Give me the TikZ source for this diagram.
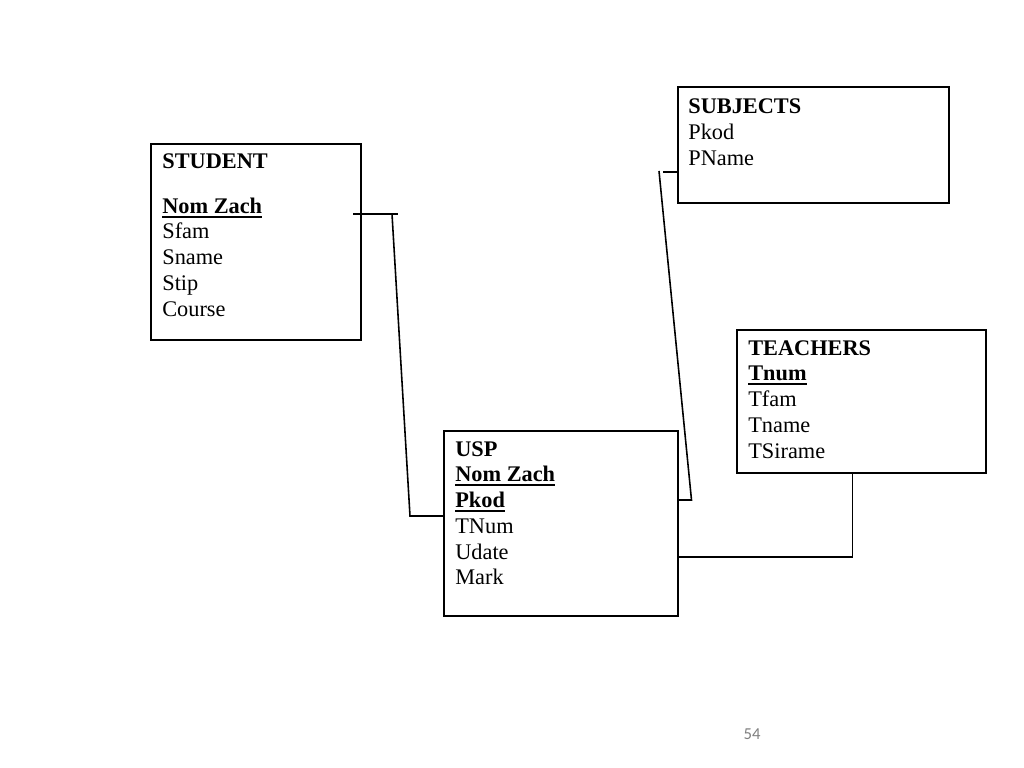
\documentclass[tikz,border=0pt]{standalone}
\usepackage{fontspec}
\setmainfont{Liberation Serif}
\newfontfamily\pagefont{Carlito}
\usepackage{tikz}
\usetikzlibrary{positioning}

\definecolor{pagegray}{HTML}{7F7F7F}
% bold key field with a heavy underline
\newcommand{\keyfld}[1]{\setbox0\hbox{\textbf{#1}}\rlap{\rule[-2.6pt]{\wd0}{1.2pt}}\box0}

\begin{document}
\begin{tikzpicture}[
  tablebox/.style={rectangle, draw=black, line width=1pt, anchor=north west, inner sep=0pt},
  fields/.style={anchor=north west, align=left, inner sep=0pt,
    font={\fontsize{12.7}{14.65}\selectfont}},
  link/.style={draw=black, line width=0.9pt}
]
\useasboundingbox (0,0) rectangle (20.48,-15.36);

%Nodes
\node[tablebox, minimum width=4.20cm, minimum height=3.92cm] (student) at (3.00,-2.86) {};
\node[tablebox, minimum width=5.42cm, minimum height=2.32cm] (subjects) at (13.54,-1.72) {};
\node[tablebox, minimum width=4.68cm, minimum height=3.70cm] (usp) at (8.86,-8.60) {};
\node[tablebox, minimum width=4.98cm, minimum height=2.86cm] (teachers) at (14.72,-6.58) {};

%Texts
\node[fields, below right=0.2cm and 0.24cm of student.north west] (studenttxt)
  {\textbf{STUDENT}\\[11pt] \keyfld{Nom Zach}\\ Sfam\\ Sname\\ Stip\\ Course};
\node[fields, below right=0.25cm and 0.22cm of subjects.north west] (subjectstxt)
  {\textbf{SUBJECTS}\\ Pkod\\ PName};
\node[fields, below right=0.22cm and 0.24cm of usp.north west] (usptxt)
  {\textbf{USP}\\ \keyfld{Nom Zach}\\ \keyfld{Pkod}\\ TNum\\ Udate\\ Mark};
\node[fields, below right=0.22cm and 0.24cm of teachers.north west] (teacherstxt)
  {\textbf{TEACHERS}\\ \keyfld{Tnum}\\ Tfam\\ Tname\\ TSirame};

\node[font={\pagefont\fontsize{9.5}{11}\selectfont}, text=pagegray] (pagenum) at (15.04,-14.68) {54};

%Bends
\coordinate (sa) at (7.06,-4.28);
\coordinate (sb) at (7.96,-4.28);
\coordinate (sc) at (7.84,-4.28);
\coordinate (sd) at (8.20,-10.32);
\coordinate (pa) at (13.26,-3.44);
\coordinate (pb) at (13.18,-3.42);
\coordinate (pc) at (13.83,-10.00);
\coordinate (ta) at (17.05,-11.14);

%Lines
\draw[link] (sa) -- (sb);
\draw[link] (sc) -- (sd) -- (usp.west |- sd);
\draw[link] (pa) -- (subjects.west |- pa);
\draw[link] (pb) -- (pc) -- (usp.east |- pc);
\draw[link] (ta |- teachers.south) -- (ta) -- (usp.east |- ta);
\end{tikzpicture}
\end{document}
